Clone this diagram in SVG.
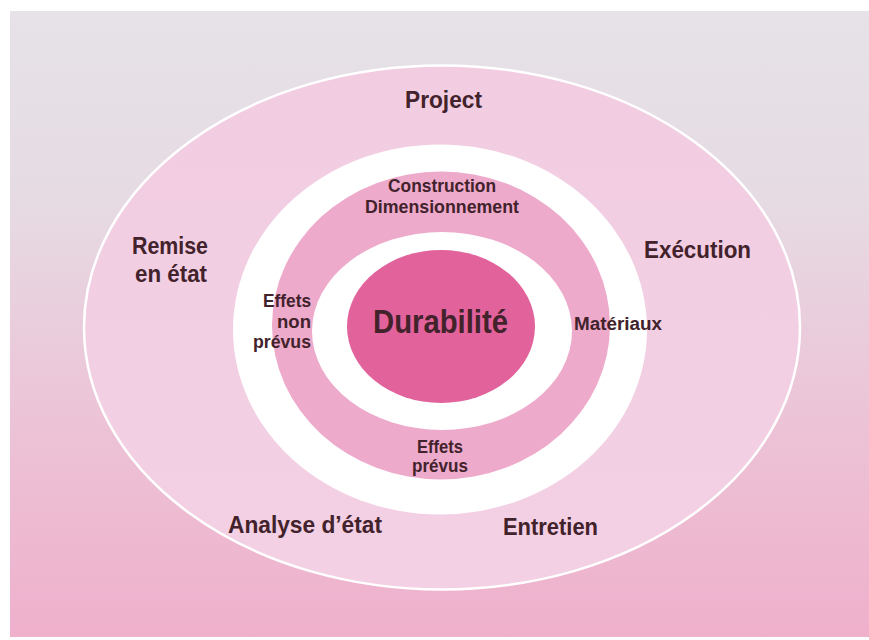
<svg xmlns="http://www.w3.org/2000/svg" width="869" height="640" viewBox="0 0 869 640">
  <defs>
    <linearGradient id="bg" x1="0" y1="0" x2="0" y2="1">
      <stop offset="0" stop-color="#e6e2e8"/>
      <stop offset="0.3" stop-color="#e6dbe3"/>
      <stop offset="0.65" stop-color="#ecc3d7"/>
      <stop offset="1" stop-color="#efb0cc"/>
    </linearGradient>
    <linearGradient id="outerFill" x1="0" y1="0" x2="0" y2="1">
      <stop offset="0" stop-color="#f2cde2"/>
      <stop offset="1" stop-color="#f3d0e3"/>
    </linearGradient>
  </defs>
  <style>
    text { font-family: "Liberation Sans", Arial, sans-serif; font-weight: bold; fill: #42222b; }
    .big { font-size: 24.5px; }
    .mid { font-size: 18px; }
    .core { font-size: 34px; }
  </style>
  <rect x="0" y="0" width="869" height="640" fill="#ffffff"/>
  <rect x="10" y="11" width="859" height="626" fill="url(#bg)"/>

  <g id="ring-outer">
    <ellipse cx="442" cy="327.5" rx="358" ry="262" fill="url(#outerFill)" stroke="#ffffff" stroke-width="2.5"/>
  </g>
  <g id="ring-white-outer">
    <ellipse cx="440" cy="329.5" rx="207" ry="185" fill="#ffffff"/>
  </g>
  <g id="ring-middle">
    <ellipse cx="441" cy="325.5" rx="169" ry="154" fill="#eeaacb"/>
  </g>
  <g id="ring-white-inner">
    <ellipse cx="442" cy="331" rx="130" ry="99" fill="#ffffff"/>
  </g>
  <g id="core">
    <ellipse cx="441" cy="326.5" rx="94" ry="76.5" fill="#e2629c"/>
    <text class="core" x="373" y="333" textLength="135" lengthAdjust="spacingAndGlyphs">Durabilité</text>
  </g>

  <g id="node-project">
    <text class="big" x="405" y="108" textLength="77" lengthAdjust="spacingAndGlyphs">Project</text>
  </g>
  <g id="node-execution">
    <text class="big" x="644" y="258" textLength="107" lengthAdjust="spacingAndGlyphs">Exécution</text>
  </g>
  <g id="node-entretien">
    <text class="big" x="503" y="535" textLength="95" lengthAdjust="spacingAndGlyphs">Entretien</text>
  </g>
  <g id="node-analyse">
    <text class="big" x="228" y="533" textLength="154" lengthAdjust="spacingAndGlyphs">Analyse d’état</text>
  </g>
  <g id="node-remise">
    <text class="big" x="132" y="254" textLength="76" lengthAdjust="spacingAndGlyphs">Remise</text>
    <text class="big" x="135" y="282" textLength="72" lengthAdjust="spacingAndGlyphs">en état</text>
  </g>

  <g id="node-construction">
    <text class="mid" x="388" y="192" textLength="108" lengthAdjust="spacingAndGlyphs">Construction</text>
    <text class="mid" x="365" y="213" textLength="154" lengthAdjust="spacingAndGlyphs">Dimensionnement</text>
  </g>
  <g id="node-materiaux">
    <text class="mid" x="574" y="330" textLength="88" lengthAdjust="spacingAndGlyphs">Matériaux</text>
  </g>
  <g id="node-effets-prevus">
    <text class="mid" x="417" y="453" textLength="46" lengthAdjust="spacingAndGlyphs">Effets</text>
    <text class="mid" x="412" y="472" textLength="56" lengthAdjust="spacingAndGlyphs">prévus</text>
  </g>
  <g id="node-effets-non-prevus">
    <text class="mid" x="263" y="307" textLength="48" lengthAdjust="spacingAndGlyphs">Effets</text>
    <text class="mid" x="277" y="328" textLength="34" lengthAdjust="spacingAndGlyphs">non</text>
    <text class="mid" x="253" y="348" textLength="58" lengthAdjust="spacingAndGlyphs">prévus</text>
  </g>

  <g id="connectors"/>
</svg>
